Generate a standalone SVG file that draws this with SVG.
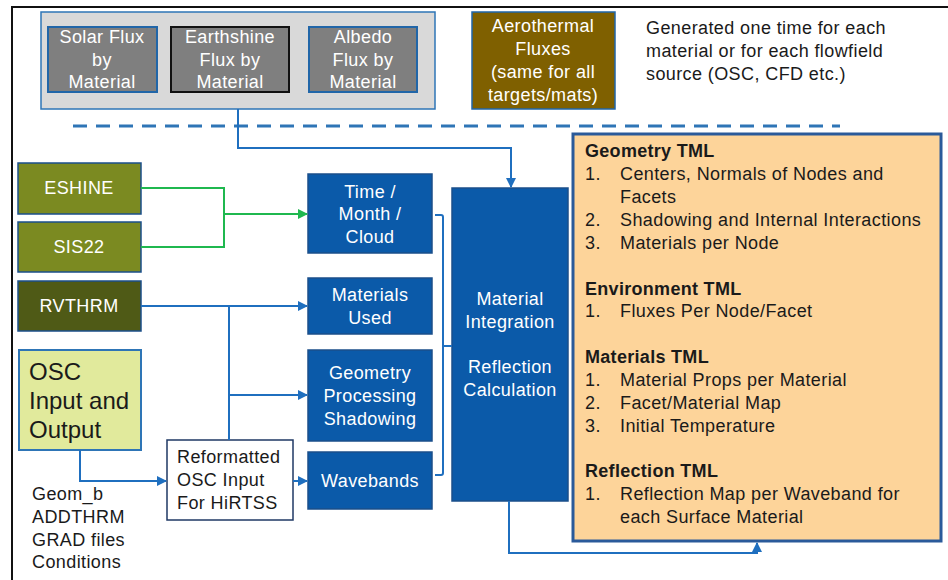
<svg xmlns="http://www.w3.org/2000/svg" width="948" height="580" viewBox="0 0 948 580">
<defs>
<style>
text{font-family:"Liberation Sans",Arial,sans-serif;font-size:18px;letter-spacing:0.4px}
.w{fill:#ffffff}
.k{fill:#1a1a1a}
.c{text-anchor:middle}
.b{font-weight:bold;letter-spacing:0.3px}
.big{font-size:24px;letter-spacing:0}
.blue{fill:#0b5aa9;stroke:#1b4f8a;stroke-width:1.5}
.gray{fill:#7f7f7f;stroke:#2166a8;stroke-width:2}
.ln{fill:none;stroke:#1f6fbf;stroke-width:2}
.gr{fill:none;stroke:#1fb84f;stroke-width:2}
</style>
<marker id="ab" viewBox="0 0 10 10" refX="9" refY="5" markerWidth="5" markerHeight="5" orient="auto-start-reverse"><path d="M0,0 L10,5 L0,10 z" fill="#1f6fbf"/></marker>
<marker id="ag" viewBox="0 0 10 10" refX="9" refY="5" markerWidth="5" markerHeight="5" orient="auto-start-reverse"><path d="M0,0 L10,5 L0,10 z" fill="#1fb84f"/></marker>
</defs>
<rect width="948" height="580" fill="#ffffff"/>
<path d="M12,580 V7 H948" fill="none" stroke="#111" stroke-width="2"/>

<g id="flux-group">
<rect x="41" y="12" width="394" height="97" fill="#d9d9d9" stroke="#2e75b6" stroke-width="1.5"/>
</g>
<g id="solar">
<rect x="48" y="27" width="109" height="65" class="gray"/>
<text class="w c" x="102" y="43">Solar Flux</text>
<text class="w c" x="102" y="66">by</text>
<text class="w c" x="102" y="88">Material</text>
</g>
<g id="earthshine">
<rect x="171" y="27" width="118" height="65" fill="#7f7f7f" stroke="#111" stroke-width="2"/>
<text class="w c" x="230" y="43">Earthshine</text>
<text class="w c" x="230" y="66">Flux by</text>
<text class="w c" x="230" y="88">Material</text>
</g>
<g id="albedo">
<rect x="309" y="27" width="108" height="65" class="gray"/>
<text class="w c" x="363" y="43">Albedo</text>
<text class="w c" x="363" y="66">Flux by</text>
<text class="w c" x="363" y="88">Material</text>
</g>
<g id="aerothermal">
<rect x="472" y="12" width="143" height="97" fill="#7f6000" stroke="#2166a8" stroke-width="1.5"/>
<text class="w c" x="543" y="32">Aerothermal</text>
<text class="w c" x="543" y="55">Fluxes</text>
<text class="w c" x="543" y="78">(same for all</text>
<text class="w c" x="543" y="101">targets/mats)</text>
</g>
<g id="note">
<text class="k" x="646" y="34">Generated one time for each</text>
<text class="k" x="646" y="57">material or for each flowfield</text>
<text class="k" x="646" y="80">source (OSC, CFD etc.)</text>
</g>

<g id="eshine">
<rect x="18" y="163" width="123" height="51" fill="#7b8a21" stroke="#1b4f8a" stroke-width="1.5"/>
<text class="w c" x="79" y="194">ESHINE</text>
</g>
<g id="sis22">
<rect x="18" y="222" width="123" height="50" fill="#7b8a21" stroke="#1b4f8a" stroke-width="1.5"/>
<text class="w c" x="79" y="253">SIS22</text>
</g>
<g id="rvthrm">
<rect x="18" y="281" width="123" height="50" fill="#4f5a16" stroke="#1b4f8a" stroke-width="1.5"/>
<text class="w c" x="79" y="312">RVTHRM</text>
</g>
<g id="osc">
<rect x="19" y="350" width="122" height="100" fill="#e1ea9c" stroke="#2e75b6" stroke-width="2"/>
<text class="k big" x="29" y="380">OSC</text>
<text class="k big" x="29" y="409">Input and</text>
<text class="k big" x="29" y="438">Output</text>
</g>
<g id="osc-files">
<text class="k" x="32" y="500">Geom_b</text>
<text class="k" x="32" y="523">ADDTHRM</text>
<text class="k" x="32" y="546">GRAD files</text>
<text class="k" x="32" y="568">Conditions</text>
</g>
<g id="reformatted">
<rect x="167" y="440" width="126" height="80" fill="#ffffff" stroke="#1f3864" stroke-width="1.5"/>
<text class="k" x="177" y="463">Reformatted</text>
<text class="k" x="177" y="486">OSC Input</text>
<text class="k" x="177" y="509">For HiRTSS</text>
</g>

<g id="time">
<rect x="308" y="174" width="124" height="79" class="blue"/>
<text class="w c" x="370" y="198">Time /</text>
<text class="w c" x="370" y="220">Month  /</text>
<text class="w c" x="370" y="243">Cloud</text>
</g>
<g id="materials-used">
<rect x="308" y="278" width="124" height="56" class="blue"/>
<text class="w c" x="370" y="301">Materials</text>
<text class="w c" x="370" y="324">Used</text>
</g>
<g id="geometry">
<rect x="308" y="350" width="124" height="91" class="blue"/>
<text class="w c" x="370" y="379">Geometry</text>
<text class="w c" x="370" y="402">Processing</text>
<text class="w c" x="370" y="425">Shadowing</text>
</g>
<g id="wavebands">
<rect x="308" y="452" width="124" height="57" class="blue"/>
<text class="w c" x="370" y="487">Wavebands</text>
</g>
<g id="material-integration">
<rect x="452" y="188" width="116" height="313" class="blue"/>
<text class="w c" x="510" y="305">Material</text>
<text class="w c" x="510" y="328">Integration</text>
<text class="w c" x="510" y="373">Reflection</text>
<text class="w c" x="510" y="396">Calculation</text>
</g>
<g id="tml">
<rect x="573" y="134" width="368" height="407" fill="#fdd49a" stroke="#2a5a9a" stroke-width="3"/>
<text class="k b" x="585" y="157">Geometry TML</text>
<text class="k" x="585" y="180">1.</text><text class="k" x="620" y="180">Centers, Normals of Nodes and</text>
<text class="k" x="620" y="203">Facets</text>
<text class="k" x="585" y="226">2.</text><text class="k" x="620" y="226">Shadowing and Internal Interactions</text>
<text class="k" x="585" y="249">3.</text><text class="k" x="620" y="249">Materials per Node</text>
<text class="k b" x="585" y="295">Environment TML</text>
<text class="k" x="585" y="317">1.</text><text class="k" x="620" y="317">Fluxes Per Node/Facet</text>
<text class="k b" x="585" y="363">Materials TML</text>
<text class="k" x="585" y="386">1.</text><text class="k" x="620" y="386">Material Props per Material</text>
<text class="k" x="585" y="409">2.</text><text class="k" x="620" y="409">Facet/Material Map</text>
<text class="k" x="585" y="432">3.</text><text class="k" x="620" y="432">Initial Temperature</text>
<text class="k b" x="585" y="477">Reflection TML</text>
<text class="k" x="585" y="500">1.</text><text class="k" x="620" y="500">Reflection Map per Waveband for</text>
<text class="k" x="620" y="523">each Surface Material</text>
</g>

<g id="connectors">
<line x1="73" y1="126" x2="840" y2="126" stroke="#2e75b6" stroke-width="3" stroke-dasharray="14 9"/>
<path class="ln" d="M238,109 V148 H511 V187" marker-end="url(#ab)"/>
<path class="gr" d="M141,188 H224 V247 H141"/>
<path class="gr" d="M224,214 H307" marker-end="url(#ag)"/>
<path class="ln" d="M141,306 H307" marker-end="url(#ab)"/>
<path class="ln" d="M229,306 V440"/>
<path class="ln" d="M229,395 H307" marker-end="url(#ab)"/>
<path class="ln" d="M80,450 V481 H166" marker-end="url(#ab)"/>
<path class="ln" d="M293,481 H307" marker-end="url(#ab)"/>
<path class="ln" d="M435,215 H441 Q443,215 443,217 V473 Q443,475 441,475 H435"/>
<path class="ln" d="M443,346 H452"/>
<path class="ln" d="M509,501 V553 H757 V543" marker-end="url(#ab)"/>
</g>
</svg>
